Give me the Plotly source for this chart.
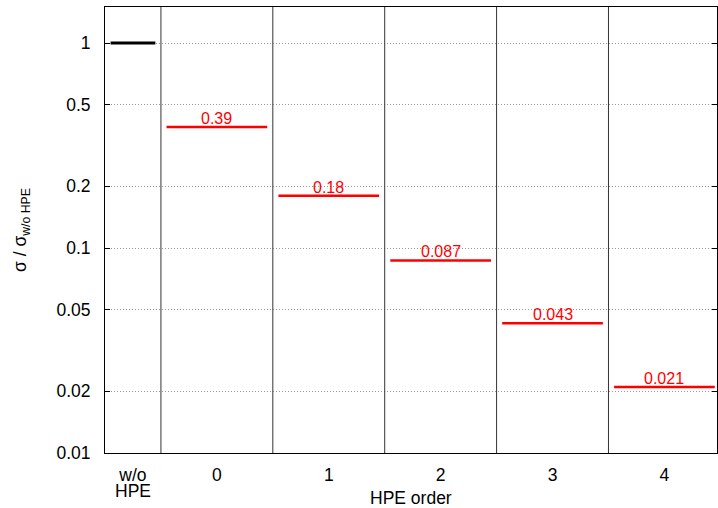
import math
import plotly.graph_objects as go

categories = ["w/o HPE", "0", "1", "2", "3", "4"]
values = [1.0, 0.39, 0.18, 0.087, 0.043, 0.021]
value_labels = ["", "0.39", "0.18", "0.087", "0.043", "0.021"]
ytick_vals = [0.01, 0.02, 0.05, 0.1, 0.2, 0.5, 1]
ytick_text = ["0.01", "0.02", "0.05", "0.1", "0.2", "0.5", "1"]

FONT = "Liberation Sans, Arial, sans-serif"
FS = 17.5

# positions: reference column is half-width, centred at -0.75
xpos = [-0.75] + [float(i) for i in range(len(categories) - 1)]
halfw = [0.2] + [0.45] * (len(categories) - 1)
colors = ["black"] + ["red"] * (len(categories) - 1)

fig = go.Figure()
for i, (x, v) in enumerate(zip(xpos, values)):
    fig.add_trace(go.Scatter(
        x=[x - halfw[i], x + halfw[i]], y=[v, v], mode="lines",
        line=dict(color=colors[i], width=3 if i == 0 else 2.5),
        showlegend=False, hoverinfo="skip"))
    if value_labels[i]:
        fig.add_annotation(x=x, y=math.log10(v), text=value_labels[i], showarrow=False,
                           yanchor="bottom", yshift=-2,
                           font=dict(color="red", size=16, family=FONT))

# separators between categories
for s in [-0.5, 0.5, 1.5, 2.5, 3.5]:
    fig.add_shape(type="line", x0=s, x1=s, y0=0, y1=1, xref="x", yref="paper",
                  line=dict(color="#333", width=1))

# tick labels: first category is split over two tight lines
tick_text = [c.split(" ")[0] for c in categories]
fig.add_annotation(text=categories[0].split(" ")[1], xref="x", yref="paper",
                   x=xpos[0], y=0, yanchor="middle", yshift=-38, showarrow=False,
                   font=dict(size=FS, color="black", family=FONT))

fig.add_annotation(text="HPE order", xref="paper", yref="paper",
                   x=0.5, y=0, yanchor="middle", yshift=-45, showarrow=False,
                   font=dict(size=FS, color="black", family=FONT))

fig.add_annotation(text="σ / σ<sub>w/o HPE</sub>", xref="paper", yref="paper",
                   x=0, y=0.5, xanchor="center", yanchor="middle", xshift=-84,
                   textangle=-90, showarrow=False,
                   font=dict(size=FS, color="black", family=FONT))

fig.update_layout(
    width=718, height=508,
    margin=dict(l=105, r=1, t=7, b=55, autoexpand=False),
    plot_bgcolor="white", paper_bgcolor="white",
    font=dict(family=FONT, size=FS, color="black"),
    xaxis=dict(range=[-1, 4.47], tickvals=xpos, ticktext=tick_text,
               showgrid=False, zeroline=False, showline=True, mirror=True,
               linecolor="black", linewidth=1, ticks="", ticklabelstandoff=6,
               automargin=False),
    yaxis=dict(type="log", range=[-2, 0.176], tickvals=ytick_vals, ticktext=ytick_text,
               showgrid=True, gridcolor="#999", griddash="1px,2px", gridwidth=1,
               zeroline=False, showline=True, mirror="ticks", linecolor="black",
               linewidth=1, ticks="inside", ticklen=5, tickcolor="black",
               ticklabelstandoff=10, automargin=False),
)

fig.write_html("out.html", config={"displayModeBar": False},
               post_script="document.body.style.margin='0';document.body.style.overflow='hidden';")
